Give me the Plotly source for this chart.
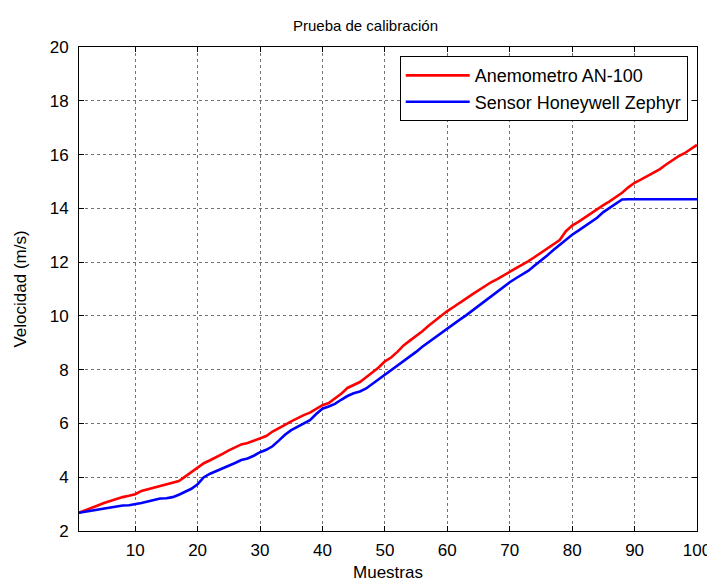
import plotly.graph_objects as go

muestras = list(range(1, 101))

anemometro = [
    2.68, 2.78, 2.87, 2.95, 3.04, 3.12, 3.18, 3.26, 3.31, 3.37,
    3.49, 3.55, 3.61, 3.67, 3.74, 3.80, 3.86, 4.02, 4.18, 4.34,
    4.52, 4.63, 4.74, 4.87, 5.00, 5.11, 5.22, 5.27, 5.36, 5.45,
    5.53, 5.70, 5.84, 5.95, 6.08, 6.20, 6.31, 6.40, 6.55, 6.68,
    6.76, 6.93, 7.10, 7.32, 7.43, 7.54, 7.72, 7.90, 8.08, 8.31,
    8.45, 8.66, 8.90, 9.08, 9.25, 9.43, 9.63, 9.82, 10.00, 10.18,
    10.33, 10.50, 10.64, 10.80, 10.95, 11.12, 11.25, 11.37, 11.50, 11.63,
    11.78, 11.90, 12.04, 12.19, 12.34, 12.50, 12.66, 12.82, 13.15, 13.36,
    13.50, 13.66, 13.82, 13.96, 14.12, 14.26, 14.42, 14.58, 14.78, 14.95,
    15.07, 15.20, 15.33, 15.45, 15.62, 15.78, 15.93, 16.05, 16.21, 16.36,
]

zephyr = [
    2.68, 2.72, 2.76, 2.78, 2.84, 2.88, 2.92, 2.95, 2.96, 2.99,
    3.04, 3.10, 3.16, 3.21, 3.22, 3.26, 3.35, 3.45, 3.57, 3.74,
    4.00, 4.13, 4.23, 4.30, 4.40, 4.53, 4.64, 4.70, 4.80, 4.93,
    5.02, 5.15, 5.36, 5.58, 5.75, 5.88, 5.98, 6.12, 6.35, 6.55,
    6.63, 6.73, 6.88, 7.02, 7.12, 7.19, 7.30, 7.47, 7.64, 7.81,
    7.98, 8.15, 8.30, 8.47, 8.66, 8.85, 9.02, 9.20, 9.38, 9.55,
    9.70, 9.86, 10.02, 10.20, 10.36, 10.55, 10.72, 10.90, 11.08, 11.25,
    11.40, 11.55, 11.68, 11.87, 12.05, 12.25, 12.45, 12.65, 12.83, 13.02,
    13.17, 13.32, 13.47, 13.65, 13.86, 14.02, 14.18, 14.33, 14.34, 14.34,
    14.34, 14.34, 14.34, 14.34, 14.34, 14.34, 14.34, 14.34, 14.34, 14.34,
]

x_ticks = [10, 20, 30, 40, 50, 60, 70, 80, 90, 100]
y_ticks = [2, 4, 6, 8, 10, 12, 14, 16, 18, 20]

font_family = "Liberation Sans, Arial, sans-serif"

fig = go.Figure()
fig.add_trace(go.Scatter(x=muestras, y=anemometro, mode="lines",
                         name="Anemometro AN-100",
                         line=dict(color="#ff0000", width=2.6)))
fig.add_trace(go.Scatter(x=muestras, y=zephyr, mode="lines",
                         name="Sensor Honeywell Zephyr",
                         line=dict(color="#0000ff", width=2.6)))

axis_common = dict(
    showline=True, linecolor="black", linewidth=1, mirror="allticks",
    ticks="inside", ticklen=5, tickcolor="black", tickwidth=1,
    showgrid=True, gridcolor="rgba(0,0,0,0.55)", griddash="dot", gridwidth=1,
    zeroline=False, tickfont=dict(family=font_family, size=17, color="black"),
)

fig.update_layout(
    width=715, height=582,
    margin=dict(l=70, r=18, t=39, b=49),
    paper_bgcolor="white", plot_bgcolor="white",
    font=dict(family=font_family, size=17, color="black"),
    title=dict(text="Prueba de calibración", x=0.5, xanchor="center",
               y=0.969, yanchor="middle",
               font=dict(family=font_family, size=15, color="black")),
    xaxis=dict(range=[1, 100], tickvals=x_ticks, ticklabelstandoff=4,
               title=dict(text="Muestras", standoff=6,
                          font=dict(family=font_family, size=17)),
               **axis_common),
    yaxis=dict(range=[2, 20], tickvals=y_ticks, ticklabelstandoff=6,
               title=dict(text="Velocidad (m/s)", standoff=18,
                          font=dict(family=font_family, size=17)),
               **axis_common),
    legend=dict(x=0.985, y=0.981, xanchor="right", yanchor="top",
                bgcolor="white", bordercolor="black", borderwidth=1,
                font=dict(family=font_family, size=18, color="black"),
                tracegroupgap=0, itemwidth=64),
    showlegend=True,
)

fig.write_html("out.html")
